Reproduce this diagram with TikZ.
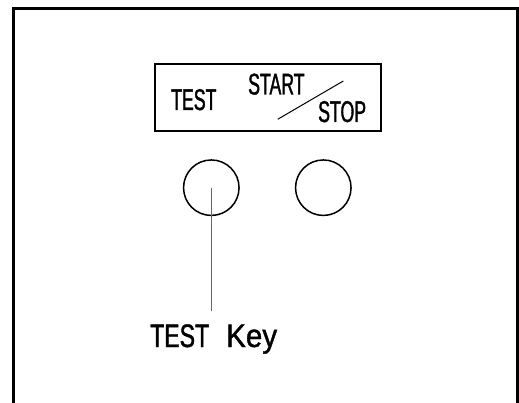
\documentclass[tikz,border=0pt]{standalone}
\usepackage{fontspec}
\setmainfont{Liberation Sans}
\newfontfamily\narrowfont[FakeStretch=0.59,FakeBold=1.2]{Liberation Sans}
\newfontfamily\labelfont[FakeStretch=0.71,FakeBold=1.2]{Liberation Sans}
\newfontfamily\keyfont[FakeStretch=0.91,FakeBold=1.2]{Liberation Sans}

\begin{document}
\begin{tikzpicture}[x=1pt,y=-1pt,
        panellabel/.style={inner sep=0pt, font=\narrowfont\fontsize{30}{32}\selectfont},
        keybutton/.style={draw, circle, line width=1.5pt, minimum size=55.5pt, inner sep=0pt}]
        \useasboundingbox (0,0) rectangle (519,403);
        \draw[line width=3pt] (13.5,403) -- (13.5,9) -- (517,9) -- (517,403);
        \draw[line width=2pt] (155,64) rectangle (380.5,131.5);
        \node (testlabel) at (171,110) [panellabel, anchor=base west]{TEST};
        \node (startlabel) at (248,94.5) [panellabel, anchor=base west]{START};
        \node (stoplabel) at (318,122) [panellabel, anchor=base west]{STOP};
        \draw[line width=1pt] (277.7,119.3) -- (343.3,81);
        \node (testkey) at (211.3,187.7) [keybutton]{};
        \node (startkey) at (323.3,187.7) [keybutton]{};
        \node (keylabel) at (150,347) [inner sep=0pt, anchor=base west,
            font=\labelfont\fontsize{32.5}{34}\selectfont]{TEST\hspace{17pt}{\keyfont Key}};
        \draw[color=black!60, line width=1pt] (testkey.center) -- ([yshift=13pt]keylabel.north -| testkey.center);
    \end{tikzpicture}
\end{document}
